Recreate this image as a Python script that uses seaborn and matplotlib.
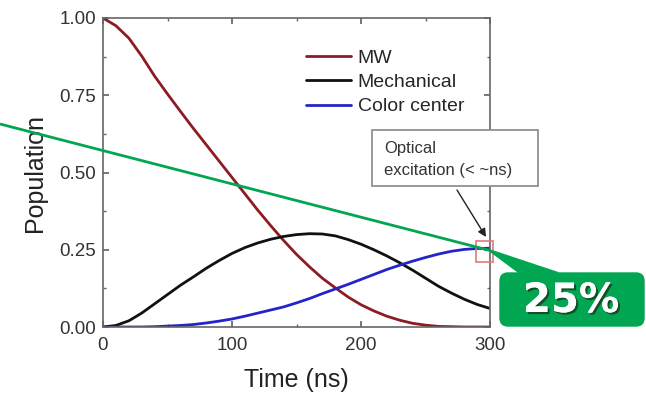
import numpy as np
import pandas as pd
import matplotlib
matplotlib.use("Agg")
import matplotlib.pyplot as plt
import seaborn as sns
from matplotlib.patches import Rectangle, FancyBboxPatch, Polygon
import matplotlib.patheffects as pe

# time axis (ns) and populations
time_ns = [0, 10, 20, 30, 40, 50, 60, 70, 80, 90, 100, 110, 120, 130, 140, 150,
           160, 170, 180, 190, 200, 210, 220, 230, 240, 250, 260, 270, 280, 290, 300]
mw = [1.000, 0.975, 0.935, 0.877, 0.812, 0.754, 0.698, 0.643, 0.590, 0.537, 0.484,
      0.431, 0.378, 0.328, 0.280, 0.235, 0.195, 0.158, 0.127, 0.097, 0.072, 0.052,
      0.035, 0.022, 0.012, 0.006, 0.002, 0.001, 0.0, 0.0, 0.0]
mechanical = [0.0, 0.005, 0.020, 0.045, 0.075, 0.105, 0.135, 0.162, 0.190, 0.215,
              0.238, 0.257, 0.272, 0.284, 0.293, 0.299, 0.302, 0.301, 0.295, 0.283,
              0.268, 0.250, 0.230, 0.208, 0.184, 0.158, 0.132, 0.110, 0.090, 0.073, 0.060]
color_center = [0.0, 0.0, 0.0, 0.0, 0.001, 0.003, 0.005, 0.008, 0.013, 0.019, 0.026,
                0.035, 0.045, 0.055, 0.065, 0.078, 0.092, 0.108, 0.123, 0.138, 0.154,
                0.170, 0.186, 0.200, 0.213, 0.225, 0.236, 0.245, 0.251, 0.254, 0.255]
series_names = ["MW", "Mechanical", "Color center"]
series_colors = ["#8e1b22", "#111111", "#2424c8"]
x_ticks = [0, 100, 200, 300]
y_ticks = [0.0, 0.25, 0.5, 0.75, 1.0]
y_ticklabels = ["0.00", "0.25", "0.50", "0.75", "1.00"]

df = pd.DataFrame({
    "Time (ns)": time_ns * 3,
    "Population": mw + mechanical + color_center,
    "series": [series_names[0]] * len(time_ns) + [series_names[1]] * len(time_ns)
              + [series_names[2]] * len(time_ns),
})

sns.set_theme(style="ticks")
plt.rcParams["font.family"] = ["Liberation Sans", "DejaVu Sans"]

fig = plt.figure(figsize=(6.46, 3.97), dpi=100)
ax = fig.add_axes([103 / 646, 1 - 327 / 397, 387 / 646, 309 / 397])

sns.lineplot(data=df, x="Time (ns)", y="Population", hue="series",
             palette=dict(zip(series_names, series_colors)), linewidth=2.0, ax=ax)

ax.set_xlim(0, 300)
ax.set_ylim(0, 1)
ax.set_xticks(x_ticks, [str(v) for v in x_ticks])
ax.set_xticks([50, 150, 250], minor=True)
ax.set_yticks(y_ticks, y_ticklabels)
ax.set_yticks([0.125, 0.375, 0.625, 0.875], minor=True)
ax.tick_params(which="both", direction="in", top=True, right=True, colors="#666666",
               labelcolor="#333333", labelsize=13.5)
ax.tick_params(axis="x", pad=7)
ax.tick_params(axis="y", pad=5)
ax.tick_params(which="major", length=4)
ax.tick_params(which="minor", length=2.5)
for sp in ax.spines.values():
    sp.set_color("#666666")
    sp.set_linewidth(1.2)
ax.set_xlabel("Time (ns)", fontsize=18, color="#222222", labelpad=10)
ax.set_ylabel("Population", fontsize=18, color="#222222", labelpad=9)

ax.legend(loc="upper left", bbox_to_anchor=(0.505, 0.925), frameon=False,
          fontsize=14, handlelength=2.3, handletextpad=0.35, labelspacing=0.35,
          borderaxespad=0)

# overlay layer in pixel coordinates (annotation, callout)
ov = fig.add_axes([0, 0, 1, 1])
ov.set_xlim(0, 646)
ov.set_ylim(397, 0)
ov.axis("off")
ov.patch.set_alpha(0)

ov.add_patch(Rectangle((372, 130), 166, 56, fc="white", ec="#888888", lw=1.2))
ov.text(384, 148, "Optical", fontsize=12, color="#333333", ha="left", va="center")
ov.text(384, 170, "excitation (< ~ns)", fontsize=12, color="#333333", ha="left", va="center")
ov.annotate("", xy=(486, 237), xytext=(457, 190),
            arrowprops=dict(arrowstyle="-|>", color="#222222", lw=1.0, shrinkA=0, shrinkB=0))

green = "#00a651"
ov.add_patch(Rectangle((476, 241), 17, 21, fill=False, ec="#e07a7a", lw=1.2))
ov.plot([0, 490], [124, 250.5], color=green, lw=2.0, solid_capstyle="butt")
ov.add_patch(Polygon([(489, 250), (520, 273), (558, 273)], closed=True, fc=green, ec=green, lw=1.5))
ov.add_patch(FancyBboxPatch((503, 276), 138, 47, boxstyle="round,pad=3,rounding_size=8",
                            fc=green, ec=green))
ov.text(571, 301, "25%", fontsize=29, fontweight="bold", color="white",
        family="DejaVu Sans", ha="center", va="center",
        path_effects=[pe.withSimplePatchShadow(offset=(1.5, -1.5), shadow_rgbFace="#1a3a1a", alpha=0.8),
                      pe.Normal()])

fig.savefig("out.png", dpi=100)
